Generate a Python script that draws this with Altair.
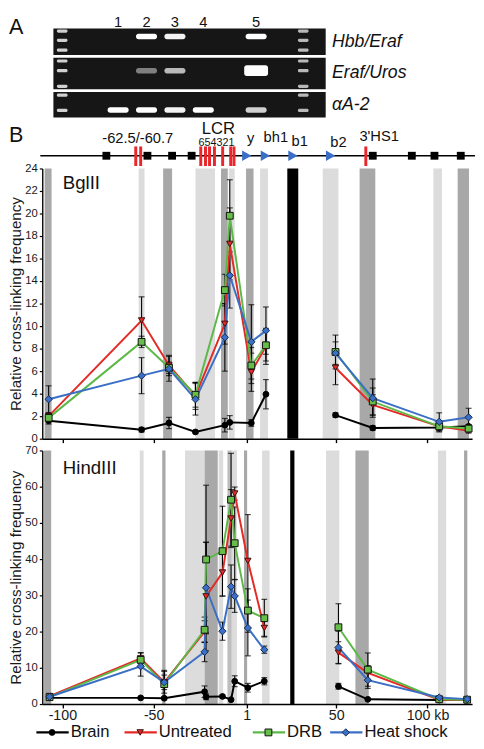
import altair as alt
import pandas as pd

# ------------------------------------------------------------------ data
SERIES = ["Brain", "Untreated", "DRB", "Heat shock"]

# ---- panel B, BglII (x in kb, y = relative cross-linking frequency)
bgl_kb = [-107.5, -56.6, -41.6, -27.1, -11.0, -8.3, 3.5, 11.5, 49.6, 70.0, 106.4, 122.5]
bgl_brain = [1.6, 0.8, 1.4, 0.6, 1.2, 1.45, 1.4, 3.95, 2.1, 0.95, 1.0, 1.1]
bgl_brain_err = [0.3, 0.2, 0.5, 0.1, 0.6, 0.6, 0.3, 1.3, 0.2, 0.2, 0.1, 0.1]
bgl_untreated = [2.0, 10.5, 6.5, 3.8, 10.2, 17.3, 5.9, 8.2, 6.3, 3.0, 1.1, 0.7]
bgl_untreated_err = [0.3, 2.1, 0.9, 1.2, 1.8, 3.2, 1.7, 1.6, 1.5, 0.9, 0.4, 0.2]
bgl_drb = [1.85, 8.6, 6.3, 3.9, 13.2, 19.8, 6.5, 8.3, 7.7, 3.3, 1.1, 0.9]
bgl_drb_err = [0.3, 0.5, 0.5, 1.1, 1.4, 3.2, 1.6, 1.4, 1.5, 1.2, 0.5, 0.3]
bgl_heat = [3.5, 5.6, 6.2, 3.5, 9.0, 14.5, 8.6, 9.6, 7.6, 3.6, 1.5, 1.9]
bgl_heat_err = [1.2, 1.6, 1.1, 1.4, 3.0, 2.9, 3.3, 2.1, 1.0, 1.7, 0.8, 0.8]

bgl_band_start = [-109.7, -58.2, -44.8, -27.1, -13.1, -8.8, 0.6, 8.3, 23.2, 42.6, 62.8, 103.2, 116.5]
bgl_band_end = [-105.9, -55.0, -39.9, -16.4, -9.4, -5.6, 4.7, 12.6, 29.2, 51.2, 71.4, 107.9, 122.7]
bgl_band_tone = ["dark", "light", "dark", "light", "dark", "light", "dark", "light",
                 "black", "light", "dark", "light", "dark"]

# ---- panel B, HindIII
hind_kb = [-107.0, -57.1, -44.2, -22.1, -21.3, -12.3, -7.6, -5.6, 1.6, 10.6, 51.2, 67.3, 106.4, 121.7]
hind_brain = [1.7, 1.7, 1.6, 3.4, 2.0, 2.1, 1.2, 6.3, 4.5, 6.3, 4.9, 1.3, 1.1, 1.1]
hind_brain_err = [0.3, 0.3, 0.4, 1.6, 0.8, 0.4, 0.3, 1.5, 1.2, 1.0, 0.8, 0.2, 0.1, 0.1]
hind_untreated = [2.2, 12.6, 6.0, 20.0, 29.7, 36.3, 51.2, 58.1, 39.5, 21.0, 14.2, 8.6, 1.2, 1.1]
hind_untreated_err = [0.5, 1.5, 2.0, 3.0, 15.0, 6.5, 8.0, 1.8, 12.8, 2.3, 3.0, 2.0, 0.3, 0.2]
hind_drb = [1.9, 12.2, 5.5, 20.5, 39.9, 42.2, 56.4, 44.4, 25.8, 23.7, 21.2, 9.5, 1.3, 1.2]
hind_drb_err = [0.5, 2.0, 3.8, 3.5, 20.5, 12.4, 12.8, 10.0, 6.0, 5.2, 6.5, 4.6, 0.3, 0.2]
hind_heat = [2.0, 10.4, 6.0, 14.4, 32.1, 20.1, 32.4, 29.8, 21.0, 15.0, 15.6, 6.6, 1.8, 1.35]
hind_heat_err = [0.8, 2.7, 3.0, 2.7, 12.5, 2.5, 6.0, 4.5, 7.7, 1.0, 4.5, 2.3, 0.4, 0.3]

hind_band_start = [-110.0, -57.6, -45.3, -32.8, -22.1, -14.4, -9.6, -7.2, -0.5, 9.4, 24.8, 44.4, 60.5, 105.7, 120.0]
hind_band_end = [-106.1, -55.5, -43.5, -22.1, -14.9, -11.9, -7.2, -4.4, 1.2, 13.5, 27.1, 51.7, 67.8, 110.2, 121.8]
hind_band_tone = ["dark", "light", "dark", "light", "dark", "light", "mid", "light", "dark", "light",
                  "black", "light", "dark", "light", "dark"]

x_tick_values = [-100, -50, 1, 50, 100]

# ---- gene map
map_block_kb = [-75.9, -53.4, -39.9, -29.2, 70.0, 91.4, 103.8, 118.2]
map_hs_kb = [-59.8, -57.1, -24.2, -21.6, -19.4, -16.7, -12.2, -7.8, -6.0, 66.2]
map_gene_kb = [1.0, 11.2, 26.3, 46.9]
map_label_text = ["-62.5/-60.7", "LCR", "y", "bh1", "b1", "b2", "3'HS1"]
map_label_kb = [-58.7, -14.5, 3.2, 16.9, 30.0, 51.2, 73.5]
map_hs_digits = ["6", "5", "4", "3", "2", "1"]
map_hs_digits_kb = -15.6

# ---- gel (panel A)
gel_lane_label = ["", "1", "2", "3", "4", "5", ""]
gel_lane_pos = [-0.97, 1.0, 2.0, 3.0, 4.0, 5.86, 7.52]
gel_row_names = ["Hbb/Eraf", "Eraf/Uros", "αA-2"]
gel_hbb_eraf = [0.0, 1.0, 0.95, 0.0, 1.0]
gel_eraf_uros = [0.0, 0.45, 0.7, 0.0, 1.0]
gel_alpha_a2 = [1.0, 1.0, 0.95, 1.0, 0.8]
gel_ladder_hbb = [0.1, 0.45, 0.82]
gel_ladder_eraf = [0.1, 0.41, 0.91]
gel_ladder_aa2 = [0.12, 0.72]
gel_sample_rel = [0.3, 0.41, 0.7]

# ------------------------------------------------------------------ layout / style
W = 439
KB_DOMAIN = [-111.0, 124.4]
GEL_U_DOMAIN = [-1.672, 13.466]
H_GEL, H_MAP, H_BGL, H_GAP1, H_HIND, H_GAP2, H_LEG = 106, 50, 276, 12, 259, 20, 17
GEL_ROW_SPAN = [(13, 40), (43, 75), (78, 104)]
GEL_PANEL_U = (-1.28, 8.31)
BAND_SIZE = {("Eraf/Uros", "5"): (0.42, 5.5)}
FONT = "Liberation Sans"
TONE_COLOR = {"light": "#dcdcdc", "mid": "#bdbdbd", "dark": "#a8a8a8", "black": "#000000"}

COLOR = alt.Scale(domain=SERIES, range=["#000000", "#e42a26", "#5cb947", "#3b6fc6"])
FILL = alt.Scale(domain=SERIES, range=["#000000", "#e42a26", "#66bd4a", "#3b70c8"])
STROKE = alt.Scale(domain=SERIES, range=["#000000", "#3a1010", "#111111", "#17284a"])
SHAPE = alt.Scale(domain=SERIES, range=["circle", "triangle-down", "square", "diamond"])
SIZE = alt.Scale(domain=SERIES, range=[35, 55, 50, 70])

xscale = alt.Scale(domain=KB_DOMAIN, nice=False, zero=False)


def point_encodings():
    return dict(
        shape=alt.Shape("series:N", scale=SHAPE, legend=None),
        fill=alt.Fill("series:N", scale=FILL, legend=None),
        stroke=alt.Stroke("series:N", scale=STROKE, legend=None),
        size=alt.Size("series:N", scale=SIZE, legend=None),
    )


# ------------------------------------------------------------------ gel chart
gel_rows_intensity = [gel_hbb_eraf, gel_eraf_uros, gel_alpha_a2]
gel_ladders = [gel_ladder_hbb, gel_ladder_eraf, gel_ladder_aa2]
panel_recs, band_recs = [], []
for r, (name, (y0, y1)) in enumerate(zip(gel_row_names, GEL_ROW_SPAN)):
    span = y1 - y0
    panel_recs.append(dict(u0=GEL_PANEL_U[0], u1=GEL_PANEL_U[1], y0=y0, y1=y1,
                           name=name, yc=(y0 + y1) / 2))
    for li in (0, 6):
        for rel in gel_ladders[r]:
            yc = y0 + rel * span
            band_recs.append(dict(u0=gel_lane_pos[li] - 0.19, u1=gel_lane_pos[li] + 0.19,
                                  y0=yc - 1.6, y1=yc + 1.6, op=0.8 if li == 0 else 0.7))
    for k, inten in enumerate(gel_rows_intensity[r]):
        if inten <= 0:
            continue
        li = k + 1
        hw, hh = BAND_SIZE.get((name, gel_lane_label[li]), (0.37, 2.8))
        yc = y0 + gel_sample_rel[r] * span
        band_recs.append(dict(u0=gel_lane_pos[li] - hw, u1=gel_lane_pos[li] + hw,
                              y0=yc - hh, y1=yc + hh, op=inten))
gel_panels = pd.DataFrame(panel_recs)
gel_bands = pd.DataFrame(band_recs)
gel_lanes = pd.DataFrame({"u": gel_lane_pos, "t": gel_lane_label})

gx = alt.Scale(domain=GEL_U_DOMAIN, nice=False, zero=False)
gy = alt.Scale(domain=[0, H_GEL], nice=False, zero=False, reverse=True)

gel_bg = alt.Chart(gel_panels).mark_rect(color="#161616").encode(
    x=alt.X("u0:Q", scale=gx, axis=None), x2="u1:Q",
    y=alt.Y("y0:Q", scale=gy, axis=None), y2="y1:Q")
gel_bd = alt.Chart(gel_bands).mark_rect(color="white", cornerRadius=2.5).encode(
    x=alt.X("u0:Q", scale=gx, axis=None), x2="u1:Q",
    y=alt.Y("y0:Q", scale=gy, axis=None), y2="y1:Q",
    opacity=alt.Opacity("op:Q", scale=None))
gel_num = alt.Chart(gel_lanes).mark_text(fontSize=15, baseline="alphabetic", color="#111").encode(
    x=alt.X("u:Q", scale=gx, axis=None), y=alt.value(12), text="t:N")
gel_lab = alt.Chart(gel_panels).mark_text(fontSize=18, fontStyle="italic", align="left",
                                          baseline="middle", color="#111").encode(
    x=alt.value(296), y=alt.Y("yc:Q", scale=gy, axis=None), text="name:N")
gel_A = alt.Chart(pd.DataFrame({"t": ["A"]})).mark_text(
    fontSize=22, align="left", baseline="alphabetic", color="#111").encode(
    x=alt.value(-34), y=alt.value(19), text="t:N")
gel_chart = alt.layer(gel_bg, gel_bd, gel_num, gel_lab, gel_A).properties(width=W, height=H_GEL)

# ------------------------------------------------------------------ gene map
TRACK_Y = 37
LABEL_BASE = {"-62.5/-60.7": 24, "LCR": 14.5, "y": 24, "bh1": 23, "b1": 27, "b2": 28, "3'HS1": 22}
LABEL_SIZE = {"LCR": 17}
map_labels = pd.DataFrame({"kb": map_label_kb, "t": map_label_text})
map_labels["base"] = [LABEL_BASE[t] for t in map_label_text]
map_labels["fs"] = [LABEL_SIZE.get(t, 15) for t in map_label_text]

MX = alt.X("kb:Q", scale=xscale, axis=None)
map_line = alt.Chart(pd.DataFrame({"a": [0]})).mark_rule(color="black", strokeWidth=1.5).encode(
    x=alt.value(-2), x2=alt.value(W + 3), y=alt.value(TRACK_Y))
map_blocks = alt.Chart(pd.DataFrame({"kb": map_block_kb})).mark_square(
    size=64, color="black", opacity=1).encode(x=MX, y=alt.value(TRACK_Y))
map_hs = alt.Chart(pd.DataFrame({"kb": map_hs_kb})).mark_rule(
    color="#e8262b", strokeWidth=3).encode(x=MX, y=alt.value(TRACK_Y - 9.5), y2=alt.value(TRACK_Y + 10.5))
map_genes = alt.Chart(pd.DataFrame({"kb": map_gene_kb})).mark_point(
    shape="triangle-right", filled=True, size=120, color="#3b6fc6", opacity=1).encode(
    x=MX, y=alt.value(TRACK_Y))
map_text = alt.Chart(map_labels).mark_text(baseline="alphabetic", color="#111").encode(
    x=MX, y=alt.Y("base:Q", scale=None, axis=None), text="t:N",
    size=alt.Size("fs:Q", scale=None, legend=None))
map_digits = alt.Chart(pd.DataFrame({"kb": [map_hs_digits_kb], "t": ["".join(map_hs_digits)]})).mark_text(
    baseline="alphabetic", fontSize=11, color="#111").encode(x=MX, y=alt.value(27.5), text="t:N")
map_B = alt.Chart(pd.DataFrame({"t": ["B"]})).mark_text(
    fontSize=22, align="left", baseline="alphabetic", color="#111").encode(
    x=alt.value(-34), y=alt.value(23), text="t:N")
map_chart = alt.layer(map_line, map_hs, map_blocks, map_genes, map_text, map_digits, map_B).properties(
    width=W, height=H_MAP)


# ------------------------------------------------------------------ data panels
def build_panel(kb, values, errors, bstart, bend, btone, H, ymax, ystep, name, name_y, show_labels):
    # the lines are broken across the black (uncovered) region
    gap = [(s + e) / 2 for s, e, t in zip(bstart, bend, btone) if t == "black"][0]
    recs = []
    for s, vals, errs in zip(SERIES, values, errors):
        for x, v, e in zip(kb, vals, errs):
            recs.append(dict(series=s, kb=x, v=v, lo=max(0.0, v - e), hi=v + e,
                             order=SERIES.index(s), seg=int(x > gap)))
    df = pd.DataFrame(recs)
    dfb = pd.DataFrame({"x0": bstart, "x1": bend, "tone": btone})
    dfb["hex"] = [TONE_COLOR[t] for t in btone]

    xaxis = alt.Axis(values=x_tick_values, labels=show_labels, title=None, tickSize=4,
                     domainWidth=1.6, tickWidth=1.4, domainColor="black", tickColor="black",
                     labelFontSize=14.5, labelPadding=1, labelColor="#1a1a1a", grid=False,
                     zindex=1, labelFlush=False, labelOverlap=False,
                     labelExpr="datum.value == 100 ? '100 kb' : toString(datum.value)")
    yscale = alt.Scale(domain=[0, ymax], nice=False, zero=True)
    yaxis = alt.Axis(values=list(range(0, ymax + 1, ystep)), title="Relative cross-linking frequency",
                     tickSize=3, tickWidth=1.2, domainWidth=1.4, domainColor="black", tickColor="black",
                     labelFontSize=11.5, labelColor="#1a1a1a", labelPadding=2, grid=False, zindex=1,
                     titleFontSize=15.5, titleFontWeight="normal", titleColor="#1a1a1a",
                     titleX=-19, titleY=H / 2, titleBaseline="bottom", titleAngle=270,
                     labelFlush=False)
    X = alt.X("kb:Q", scale=xscale, axis=xaxis)

    bands = alt.Chart(dfb).mark_rect().encode(
        x=alt.X("x0:Q", scale=xscale, axis=xaxis), x2="x1:Q",
        y=alt.value(0), y2=alt.value(H),
        fill=alt.Fill("hex:N", scale=None, legend=None))
    rules = alt.Chart(df).mark_rule(color="black", strokeWidth=1.1).encode(
        x=X, y=alt.Y("lo:Q", scale=yscale, axis=yaxis), y2="hi:Q")
    tlo = alt.Chart(df).mark_tick(orient="horizontal", color="black", size=6, thickness=1.2).encode(
        x=X, y=alt.Y("lo:Q", scale=yscale, axis=yaxis))
    thi = alt.Chart(df).mark_tick(orient="horizontal", color="black", size=6, thickness=1.2).encode(
        x=X, y=alt.Y("hi:Q", scale=yscale, axis=yaxis))
    lines = alt.Chart(df).mark_line(strokeWidth=2).encode(
        x=X, y=alt.Y("v:Q", scale=yscale, axis=yaxis),
        color=alt.Color("series:N", scale=COLOR, legend=None),
        detail="seg:N")
    pts = alt.Chart(df).mark_point(filled=True, opacity=1, strokeWidth=1).encode(
        x=X, y=alt.Y("v:Q", scale=yscale, axis=yaxis),
        order=alt.Order("order:Q"), **point_encodings())
    label = alt.Chart(pd.DataFrame({"t": [name]})).mark_text(
        align="left", baseline="alphabetic", fontSize=19, color="#111").encode(
        x=alt.value(21), y=alt.value(name_y), text="t:N")
    return alt.layer(bands, rules, tlo, thi, lines, pts, label).properties(width=W, height=H)


bgl_chart = build_panel(bgl_kb, [bgl_brain, bgl_untreated, bgl_drb, bgl_heat],
                        [bgl_brain_err, bgl_untreated_err, bgl_drb_err, bgl_heat_err],
                        bgl_band_start, bgl_band_end, bgl_band_tone, H_BGL, 24, 2, "BglII", 21, False)
hind_chart = build_panel(hind_kb, [hind_brain, hind_untreated, hind_drb, hind_heat],
                         [hind_brain_err, hind_untreated_err, hind_drb_err, hind_heat_err],
                         hind_band_start, hind_band_end, hind_band_tone, H_HIND, 70, 10, "HindIII", 24, True)


def spacer(h):
    return alt.Chart(pd.DataFrame({"a": [0]})).mark_point(opacity=0).encode(
        x=alt.value(0), y=alt.value(0)).properties(width=W, height=h)


# ------------------------------------------------------------------ legend
LEG_START = [-6, 84, 215, 294]
leg = pd.DataFrame({"series": SERIES, "x0": LEG_START})
leg["x1"] = leg["x0"] + 33
leg["xm"] = leg["x0"] + 16
leg["xt"] = leg["x0"] + 35
LY = 9
leg_line = alt.Chart(leg).mark_rule(strokeWidth=2.2).encode(
    x=alt.X("x0:Q", scale=None, axis=None), x2="x1:Q", y=alt.value(LY),
    color=alt.Color("series:N", scale=COLOR, legend=None))
leg_pts = alt.Chart(leg).mark_point(filled=True, opacity=1, strokeWidth=1).encode(
    x=alt.X("xm:Q", scale=None, axis=None), y=alt.value(LY), **point_encodings())
leg_txt = alt.Chart(leg).mark_text(align="left", baseline="middle", fontSize=17, color="#111").encode(
    x=alt.X("xt:Q", scale=None, axis=None), y=alt.value(LY), text="series:N")
legend_chart = alt.layer(leg_line, leg_pts, leg_txt).properties(width=W, height=H_LEG)

# ------------------------------------------------------------------ compose
chart = alt.vconcat(
    gel_chart, map_chart, bgl_chart, spacer(H_GAP1), hind_chart, spacer(H_GAP2), legend_chart,
    spacing=0, bounds="flush",
).resolve_scale(x="independent", y="independent").properties(
    padding=0
).configure(font=FONT).configure_view(stroke=None)

chart.save("out.html", embed_options={"renderer": "svg", "actions": False})
